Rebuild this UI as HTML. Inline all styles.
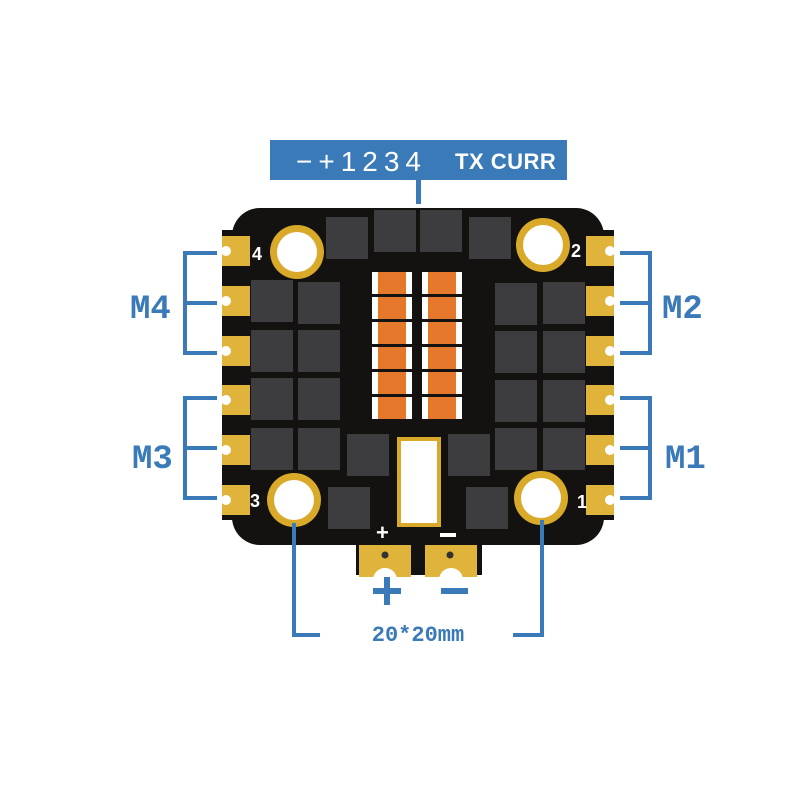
<!DOCTYPE html>
<html><head><style>body{margin:0;background:#fff}svg{display:block}</style></head><body>
<svg width="800" height="800" viewBox="0 0 800 800" xmlns="http://www.w3.org/2000/svg" font-family="Liberation Sans, sans-serif">
<rect width="800" height="800" fill="#fff"/>
<rect x="270" y="140" width="297" height="40" fill="#3a7ab8"/>
<text x="296" y="171" fill="#fff" font-size="28" letter-spacing="6">−+1234</text>
<text x="455" y="169" fill="#fff" font-size="22" font-weight="bold" letter-spacing="0.5">TX CURR</text>
<rect x="416" y="180" width="5" height="24" fill="#3a7ab8"/>
<rect x="232" y="208" width="372" height="337" rx="28" fill="#141210"/>
<rect x="222" y="230" width="392" height="290" fill="#141210"/>
<rect x="356" y="530" width="126" height="45" fill="#141210"/>
<g fill="#e0b43a">
<rect x="222" y="236" width="28" height="30"/><rect x="222" y="286" width="28" height="30"/><rect x="222" y="336" width="28" height="30"/>
<rect x="222" y="385" width="28" height="30"/><rect x="222" y="435" width="28" height="30"/><rect x="222" y="485" width="28" height="30"/>
<rect x="586" y="236" width="28" height="30"/><rect x="586" y="286" width="28" height="30"/><rect x="586" y="336" width="28" height="30"/>
<rect x="586" y="385" width="28" height="30"/><rect x="586" y="435" width="28" height="30"/><rect x="586" y="485" width="28" height="30"/>
</g>
<g fill="#fff">
<circle cx="226" cy="251" r="5"/><circle cx="226" cy="301" r="5"/><circle cx="226" cy="351" r="5"/><circle cx="226" cy="400" r="5"/><circle cx="226" cy="450" r="5"/><circle cx="226" cy="500" r="5"/>
<circle cx="610" cy="251" r="5"/><circle cx="610" cy="301" r="5"/><circle cx="610" cy="351" r="5"/><circle cx="610" cy="400" r="5"/><circle cx="610" cy="450" r="5"/><circle cx="610" cy="500" r="5"/>
</g>
<g fill="#d9a92a"><circle cx="297" cy="252" r="27"/><circle cx="543" cy="245" r="27"/><circle cx="294" cy="500" r="27"/><circle cx="541" cy="498" r="27"/></g>
<g fill="#fff"><circle cx="297" cy="252" r="20"/><circle cx="543" cy="245" r="20"/><circle cx="294" cy="500" r="20"/><circle cx="541" cy="498" r="20"/></g>
<g fill="#fff" font-weight="bold" font-size="18"><text x="252" y="260">4</text><text x="571" y="257">2</text><text x="250" y="507">3</text><text x="577" y="508">1</text></g>
<g fill="#3d3d3f">
<rect x="326" y="217" width="42" height="42"/><rect x="374" y="210" width="42" height="42"/><rect x="420" y="210" width="42" height="42"/><rect x="469" y="217" width="42" height="42"/>
<rect x="251" y="280" width="42" height="42"/><rect x="298" y="282" width="42" height="42"/>
<rect x="251" y="330" width="42" height="42"/><rect x="298" y="330" width="42" height="42"/>
<rect x="251" y="378" width="42" height="42"/><rect x="298" y="378" width="42" height="42"/>
<rect x="251" y="428" width="42" height="42"/><rect x="298" y="428" width="42" height="42"/>
<rect x="495" y="283" width="42" height="42"/><rect x="543" y="282" width="42" height="42"/>
<rect x="495" y="331" width="42" height="42"/><rect x="543" y="331" width="42" height="42"/>
<rect x="495" y="380" width="42" height="42"/><rect x="543" y="380" width="42" height="42"/>
<rect x="495" y="428" width="42" height="42"/><rect x="543" y="428" width="42" height="42"/>
<rect x="347" y="434" width="42" height="42"/><rect x="448" y="434" width="42" height="42"/>
<rect x="328" y="487" width="42" height="42"/><rect x="466" y="487" width="42" height="42"/>
</g>
<g fill="#fff">
<rect x="372" y="272" width="40" height="22"/><rect x="422" y="272" width="40" height="22"/>
<rect x="372" y="297" width="40" height="22"/><rect x="422" y="297" width="40" height="22"/>
<rect x="372" y="322" width="40" height="22"/><rect x="422" y="322" width="40" height="22"/>
<rect x="372" y="347" width="40" height="22"/><rect x="422" y="347" width="40" height="22"/>
<rect x="372" y="372" width="40" height="22"/><rect x="422" y="372" width="40" height="22"/>
<rect x="372" y="397" width="40" height="22"/><rect x="422" y="397" width="40" height="22"/>
</g>
<g fill="#e5782a">
<rect x="378" y="272" width="28" height="22"/><rect x="428" y="272" width="28" height="22"/>
<rect x="378" y="297" width="28" height="22"/><rect x="428" y="297" width="28" height="22"/>
<rect x="378" y="322" width="28" height="22"/><rect x="428" y="322" width="28" height="22"/>
<rect x="378" y="347" width="28" height="22"/><rect x="428" y="347" width="28" height="22"/>
<rect x="378" y="372" width="28" height="22"/><rect x="428" y="372" width="28" height="22"/>
<rect x="378" y="397" width="28" height="22"/><rect x="428" y="397" width="28" height="22"/>
</g>
<rect x="397" y="437" width="44" height="90" fill="#d9a92a"/>
<rect x="401" y="441" width="36" height="82" fill="#fff"/>
<text x="376" y="540" fill="#fff" font-weight="bold" font-size="22">+</text>
<rect x="440" y="533" width="16" height="4" fill="#fff"/>
<rect x="359" y="545" width="52" height="32" fill="#e0b43a"/>
<rect x="425" y="545" width="52" height="32" fill="#e0b43a"/>
<circle cx="385" cy="580" r="12" fill="#fff"/><circle cx="451" cy="580" r="12" fill="#fff"/>
<circle cx="385" cy="555" r="3.5" fill="#333"/><circle cx="450" cy="555" r="3.5" fill="#333"/>
<g stroke="#3a7ab8" stroke-width="4" fill="none">
<path d="M217 253H185V353H217M185 303H217"/>
<path d="M217 398H185V498H217M185 448H217"/>
<path d="M620 253H650V353H620M620 303H650"/>
<path d="M620 398H650V498H620M620 448H650"/>
<path d="M294 523V635H320"/>
<path d="M542 520V635H513"/>
</g>
<g fill="#3a7ab8" font-weight="bold" font-size="34" font-family="Liberation Mono, monospace">
<text x="130" y="318">M4</text><text x="132" y="468">M3</text>
<text x="662" y="318">M2</text><text x="665" y="468">M1</text>
</g>
<rect x="373" y="588" width="28" height="6" fill="#3a7ab8"/><rect x="384" y="577" width="6" height="28" fill="#3a7ab8"/>
<rect x="441" y="588" width="27" height="6" fill="#3a7ab8"/>
<text x="418" y="641" fill="#3a7ab8" font-weight="bold" font-size="22" text-anchor="middle" font-family="Liberation Mono, monospace">20*20mm</text>
</svg>
</body></html>
